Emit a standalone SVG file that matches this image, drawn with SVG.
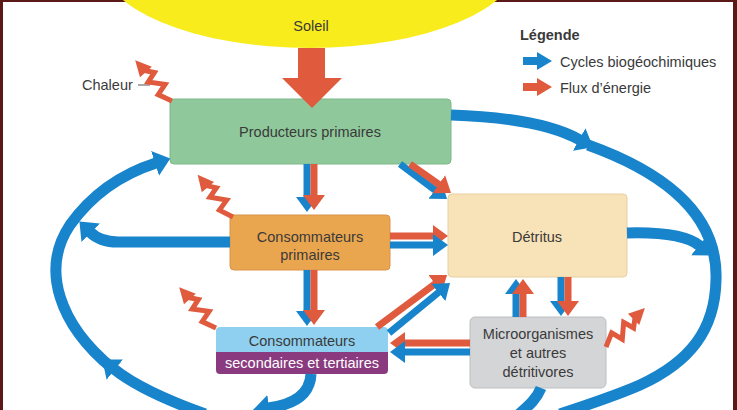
<svg xmlns="http://www.w3.org/2000/svg" xmlns:xlink="http://www.w3.org/1999/xlink" width="737" height="410" viewBox="0 0 737 410">
<style>
text{font-family:"Liberation Sans","DejaVu Sans",sans-serif;font-size:14.5px;fill:#3a3a3a}
.c{text-anchor:middle}
.w{fill:#ffffff}
.b{stroke:#1784cc;fill:none}
.r{stroke:#e05a3e;fill:none}
.pair{stroke-width:7}
.cyc{stroke-width:11}
</style>
<defs>
<marker id="hb" markerUnits="userSpaceOnUse" markerWidth="16" markerHeight="24" viewBox="0 0 16 24" refX="1" refY="12" orient="auto"><path d="M0,1 L15,12 L0,23 Z" fill="#1784cc"/></marker>
<marker id="hr" markerUnits="userSpaceOnUse" markerWidth="16" markerHeight="24" viewBox="0 0 16 24" refX="1" refY="12" orient="auto"><path d="M0,1 L15,12 L0,23 Z" fill="#e05a3e"/></marker>
<marker id="hc" markerUnits="userSpaceOnUse" markerWidth="17" markerHeight="26" viewBox="0 0 17 26" refX="1" refY="13" orient="auto"><path d="M0,0 L16,13 L0,26 Z" fill="#1784cc"/></marker>
<g id="bolt"><path d="M0,0 L14,-6 L17,6 L30,-5 L33,6 L41,0" fill="none" stroke="#e05a3e" stroke-width="5" stroke-linejoin="miter" stroke-miterlimit="10"/><polygon points="39,-8 55,0 39,8" fill="#e05a3e"/></g>
</defs>
<rect x="0" y="0" width="737" height="410" fill="#5a1818"/>
<rect x="3" y="2" width="730" height="410" fill="#ffffff"/>

<g id="soleil">
<ellipse cx="310" cy="-40" rx="210" ry="88" fill="#f8ec1c"/>
<text class="c" x="311" y="31">Soleil</text>
</g>

<g id="legende">
<text x="520" y="40" style="font-weight:bold">Légende</text>
<polygon points="523,57 537,57 537,52 552,61 537,70 537,65 523,65" fill="#1784cc"/>
<text x="560" y="67">Cycles biogéochimiques</text>
<polygon points="523,83 537,83 537,78 552,87 537,96 537,91 523,91" fill="#e05a3e"/>
<text x="560" y="93">Flux d’énergie</text>
</g>

<g id="producteurs">
<rect x="170" y="99" width="281" height="65" rx="4" fill="#8fc99b" stroke="#7db88a" stroke-width="1"/>
<text class="c" x="310" y="137">Producteurs primaires</text>
</g>

<g id="consommateurs-primaires">
<rect x="230" y="215" width="160" height="55" rx="4" fill="#eaa64f" stroke="#d9944a" stroke-width="1"/>
<text class="c" x="310" y="242">Consommateurs</text>
<text class="c" x="310" y="260">primaires</text>
</g>

<g id="detritus">
<rect x="448" y="194" width="179" height="83" rx="4" fill="#f8e2b7" stroke="#e8cfa0" stroke-width="1"/>
<text class="c" x="537" y="242">Détritus</text>
</g>

<g id="consommateurs-secondaires">
<path d="M220,327 H384 a4,4 0 0 1 4,4 V352 H216 V331 a4,4 0 0 1 4,-4 Z" fill="#8fd0f0"/>
<path d="M216,352 H388 V370 a4,4 0 0 1 -4,4 H220 a4,4 0 0 1 -4,-4 Z" fill="#8a3b80"/>
<text class="c" x="302" y="346">Consommateurs</text>
<text class="c w" x="302" y="368">secondaires et tertiaires</text>
</g>

<g id="microorganismes">
<rect x="470" y="317" width="136" height="71" rx="5" fill="#d4d5d7" stroke="#bdbec0" stroke-width="1"/>
<text class="c" x="538" y="339">Microorganismes</text>
<text class="c" x="538" y="358">et autres</text>
<text class="c" x="538" y="377">détritivores</text>
</g>

<g id="chaleur">
<text x="82" y="90">Chaleur</text>
<line x1="138" y1="85" x2="150" y2="85" stroke="#555" stroke-width="1"/>
</g>

<g id="connecteurs">
<polygon points="298,48 325,48 325,78 342,78 312,108 282,78 298,78" fill="#e05a3e"/>
<line class="b pair" x1="307" y1="164" x2="307" y2="198" marker-end="url(#hb)"/>
<line class="r pair" x1="314" y1="164" x2="314" y2="196" marker-end="url(#hr)"/>
<line class="b pair" x1="400" y1="164" x2="435.8" y2="190.6" marker-end="url(#hb)"/>
<line class="r pair" x1="410" y1="164" x2="439.6" y2="184.9" marker-end="url(#hr)"/>
<line class="r pair" x1="390" y1="236" x2="434" y2="236" marker-end="url(#hr)"/>
<line class="b pair" x1="390" y1="245" x2="434" y2="245" marker-end="url(#hb)"/>
<line class="b pair" x1="307" y1="270" x2="307" y2="312" marker-end="url(#hb)"/>
<line class="r pair" x1="314" y1="270" x2="314" y2="311" marker-end="url(#hr)"/>
<line class="r pair" x1="377" y1="327" x2="435.8" y2="283.3" marker-end="url(#hr)"/>
<line class="b pair" x1="389" y1="333" x2="439.2" y2="291.9" marker-end="url(#hb)"/>
<line class="r pair" x1="470" y1="343" x2="404" y2="343" marker-end="url(#hr)"/>
<line class="b pair" x1="470" y1="352" x2="404" y2="352" marker-end="url(#hb)"/>
<line class="b pair" x1="516" y1="317" x2="516" y2="293" marker-end="url(#hb)"/>
<line class="r pair" x1="523" y1="317" x2="523" y2="293" marker-end="url(#hr)"/>
<line class="b pair" x1="561" y1="277" x2="561" y2="302" marker-end="url(#hb)"/>
<line class="r pair" x1="568" y1="277" x2="568" y2="302" marker-end="url(#hr)"/>

<path class="b cyc" d="M588,145 C680,178 718,225 716,280 C715,330 690,362 640,385 C615,396 590,404 560,414"/>
<path class="b cyc" d="M451,115 C515,117 555,126 580,140" marker-end="url(#hc)"/>
<path class="b cyc" d="M627,233 C665,232 688,236 700,246" marker-end="url(#hc)"/>
<path class="b cyc" d="M112,368 C60,325 40,270 70,225 C95,190 128,172 156,163" marker-end="url(#hc)"/>
<path class="b cyc" d="M205,414 C180,405 140,390 114,369" marker-end="url(#hc)"/>
<path class="b cyc" d="M230,242 L118,242 C104,242 96,238 90,232" marker-end="url(#hc)"/>
<path class="b cyc" d="M311,374 C310,396 292,405 268,408" marker-end="url(#hc)"/>
<path class="b cyc" d="M541,388 C537,398 530,405 518,415"/>

<use xlink:href="#bolt" href="#bolt" transform="translate(172,101) rotate(-132)"/>
<use xlink:href="#bolt" href="#bolt" transform="translate(233,217) rotate(-130)"/>
<use xlink:href="#bolt" href="#bolt" transform="translate(216,328) rotate(-132)"/>
<use xlink:href="#bolt" href="#bolt" transform="translate(606,347) rotate(-45)"/>
</g>
</svg>
